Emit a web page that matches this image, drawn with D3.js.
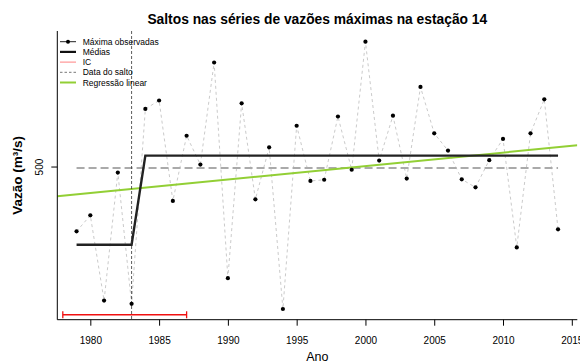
<!DOCTYPE html>
<html><head><meta charset="utf-8">
<script src="https://cdn.jsdelivr.net/npm/d3@7"></script>
<style>body{margin:0;background:#fff} text{font-family:"Liberation Sans",Arial,sans-serif;fill:#000}</style>
</head><body><svg id="c" width="580" height="363"></svg>
<script>
// ---- data ----
const years = [1979,1980,1981,1982,1983,1984,1985,1986,1987,1988,1989,1990,1991,1992,1993,1994,1995,1996,
               1997,1998,1999,2000,2001,2002,2003,2004,2005,2006,2007,2008,2009,2010,2011,2012,2013,2014];
const maxFlow = [338,378,165,485,157,644,665,414,577,505,760,221,658,418,548,144,602,464,
                 467,625,492,812,515,627,470,699,583,540,468,448,516,569,298,583,668,343];
const jumpYear = 1983;
const icYears = [1978, 1987];
const regressionCoef = [430.7, 3.36]; // value at 1979, slope per year
const xTicks = [1980,1985,1990,1995,2000,2005,2010,2015];
const yTicks = [500];
const titleText = "Saltos nas séries de vazões máximas na estação 14";
const xLabel = "Ano";
const yLabel = "Vazão (m³/s)";
const legendLabels = ["Máxima observadas","Médias","IC","Data do salto","Regressão linear"];

// ---- layout ----
const svg = d3.select("#c");
const plot = {left:57.3, right:577.3, top:31, bottom:319.7};
const xExt = d3.extent(years), xPad = (xExt[1]-xExt[0])*0.04;
const x = d3.scaleLinear().domain([xExt[0]-xPad, xExt[1]+xPad]).range([plot.left, plot.right]);
const yExt = d3.extent(maxFlow), yPad = (yExt[1]-yExt[0])*0.04;
const y = d3.scaleLinear().domain([yExt[0]-yPad, yExt[1]+yPad]).range([plot.bottom, plot.top]);

const data = years.map((yr,i)=>({yr, v:maxFlow[i]}));
const pre = data.filter(d=>d.yr<=jumpYear), post = data.filter(d=>d.yr>jumpYear);
const m1 = d3.mean(pre,d=>d.v), m2 = d3.mean(post,d=>d.v), mAll = d3.mean(data,d=>d.v);

svg.append("defs").append("clipPath").attr("id","clip").append("rect")
  .attr("x",plot.left).attr("y",plot.top).attr("width",plot.right-plot.left).attr("height",plot.bottom-plot.top);

// connecting dashed gray line
svg.append("path").datum(data)
  .attr("d", d3.line().x(d=>x(d.yr)).y(d=>y(d.v)))
  .attr("fill","none").attr("stroke","#bdbdbd").attr("stroke-width",0.8).attr("stroke-dasharray","3,3");

// overall mean dashed
svg.append("line").attr("x1",x(xExt[0])).attr("x2",x(xExt[1])).attr("y1",y(mAll)).attr("y2",y(mAll))
  .attr("stroke","#aaaaaa").attr("stroke-width",2).attr("stroke-dasharray","8,4");

// regression line
const regLine = d3.line().x(d=>x(d)).y(d=>y(regressionCoef[0]+regressionCoef[1]*(d-1979)));
svg.append("path").datum(x.domain()).attr("clip-path","url(#clip)")
  .attr("d", regLine).attr("fill","none").attr("stroke","#92cf35").attr("stroke-width",2);

// step means
const stepPts = [[xExt[0],m1],[jumpYear,m1],[post[0].yr,m2],[xExt[1],m2]];
svg.append("path").datum(stepPts)
  .attr("d", d3.line().x(d=>x(d[0])).y(d=>y(d[1])))
  .attr("fill","none").attr("stroke","#222").attr("stroke-width",2.4);

// jump date vertical
svg.append("line").attr("x1",x(jumpYear)).attr("x2",x(jumpYear)).attr("y1",plot.top).attr("y2",plot.bottom)
  .attr("stroke","#333").attr("stroke-width",0.8).attr("stroke-dasharray","3,2");

// IC
const icY = y(yExt[0]*0.9);
const ic = svg.append("g").attr("stroke","#f01010").attr("stroke-width",1.3);
ic.append("line").attr("x1",x(icYears[0])).attr("x2",x(icYears[1])).attr("y1",icY).attr("y2",icY);
icYears.forEach(yr=>ic.append("line").attr("x1",x(yr)).attr("x2",x(yr)).attr("y1",icY-3.5).attr("y2",icY+3.5));

// points
svg.append("g").selectAll("circle").data(data).join("circle")
  .attr("cx",d=>x(d.yr)).attr("cy",d=>y(d.v)).attr("r",2.1).attr("fill","#000");

// axes box (L)
svg.append("path").attr("d",`M${plot.left},${plot.top}V${plot.bottom}H${plot.right}`)
  .attr("fill","none").attr("stroke","#000").attr("stroke-width",1);

const xAxis = svg.append("g").attr("transform",`translate(0,${plot.bottom})`)
  .call(d3.axisBottom(x).tickValues(xTicks).tickFormat(d3.format("d")).tickSize(6).tickPadding(11));
xAxis.select(".domain").remove();
xAxis.selectAll("text").attr("font-size",10).attr("font-family","Liberation Sans, Arial, sans-serif").attr("fill","#000");
xAxis.selectAll("line").attr("stroke","#000");

const yAxis = svg.append("g").attr("transform",`translate(${plot.left},0)`)
  .call(d3.axisLeft(y).tickValues(yTicks).tickSize(6));
yAxis.select(".domain").remove();
yAxis.selectAll("line").attr("stroke","#000");
yAxis.selectAll("text").attr("font-size",10).attr("font-family","Liberation Sans, Arial, sans-serif")
  .attr("fill","#000").attr("x",null).attr("dy",null).attr("text-anchor","middle")
  .attr("transform","translate(-14,0) rotate(-90)");

// titles
svg.append("text").attr("x",(plot.left+plot.right)/2).attr("y",24).attr("text-anchor","middle")
  .attr("font-size",13.8).attr("font-weight","bold").text(titleText);
svg.append("text").attr("x",(plot.left+plot.right)/2).attr("y",361).attr("text-anchor","middle")
  .attr("font-size",12.5).text(xLabel);
svg.append("text").attr("transform",`translate(22,${(plot.top+plot.bottom)/2}) rotate(-90)`).attr("text-anchor","middle")
  .attr("font-size",13.5).attr("font-weight","bold").text(yLabel);

// legend
const lg = svg.append("g");
const lx0 = 60, lx1 = 76, ltx = 82.7, ly0 = 41.7, lstep = 10.2;
const lstyles = [
  {stroke:"#222", w:1, dash:null, pt:true},
  {stroke:"#111", w:2.2, dash:null},
  {stroke:"#ff8080", w:1, dash:null},
  {stroke:"#777", w:1, dash:"2.5,2"},
  {stroke:"#92cf35", w:2, dash:null}
];
legendLabels.forEach((lab,i)=>{
  const yy = ly0 + i*lstep, s = lstyles[i];
  lg.append("line").attr("x1",lx0).attr("x2",lx1).attr("y1",yy).attr("y2",yy)
    .attr("stroke",s.stroke).attr("stroke-width",s.w).attr("stroke-dasharray",s.dash);
  if (s.pt) lg.append("circle").attr("cx",(lx0+lx1)/2).attr("cy",yy).attr("r",2).attr("fill","#000");
  lg.append("text").attr("x",ltx).attr("y",yy+3).attr("font-size",8.5).text(lab);
});
</script></body></html>
